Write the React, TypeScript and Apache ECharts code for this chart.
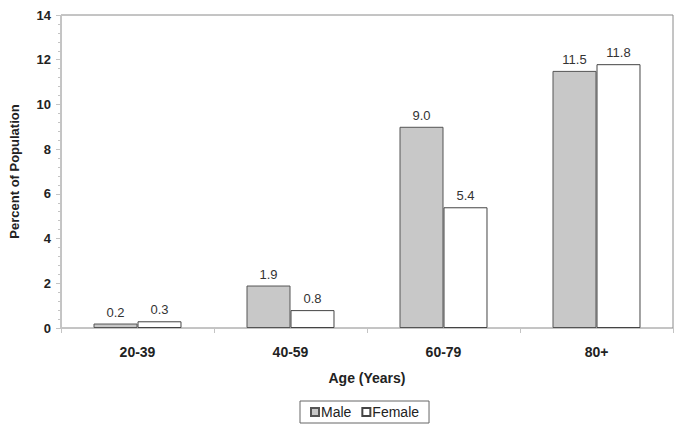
import React, { useEffect, useRef } from "react";
import * as echarts from "echarts";

const categories = ["20-39", "40-59", "60-79", "80+"];
const maleValues = [0.2, 1.9, 9.0, 11.5];
const femaleValues = [0.3, 0.8, 5.4, 11.8];
const yMin = 0;
const yMax = 14;
const yInterval = 2;

const FONT = "Liberation Sans, Arial, sans-serif";

export default function App() {
  const ref = useRef<HTMLDivElement>(null);
  useEffect(() => {
    if (!ref.current) return;
    const chart = echarts.init(ref.current, null, { renderer: "svg" });
    const label = {
      show: true,
      position: "top",
      distance: 5,
      fontFamily: FONT,
      fontSize: 13,
      color: "#333",
      formatter: (p: any) => Number(p.value).toFixed(1),
    };
    chart.setOption({
      animation: false,
      backgroundColor: "#fff",
      textStyle: { fontFamily: FONT },
      grid: {
        left: 61,
        right: 10,
        top: 15,
        bottom: 105,
        show: true,
        borderColor: "#8a8a8a",
        borderWidth: 1,
      },
      legend: {
        bottom: 10,
        left: 300,
        data: ["Male", "Female"],
        icon: "rect",
        itemWidth: 8,
        itemHeight: 8,
        itemGap: 10,
        borderColor: "#666",
        borderWidth: 1,
        borderRadius: 0,
        padding: [4, 10, 4, 10],
        textStyle: { fontFamily: FONT, fontSize: 14, color: "#222", padding: [0, 0, 0, -3] },
      },
      xAxis: {
        type: "category",
        data: categories,
        name: "Age (Years)",
        nameLocation: "middle",
        nameGap: 43,
        nameTextStyle: { fontFamily: FONT, fontSize: 14, fontWeight: "bold", color: "#222" },
        axisLine: { lineStyle: { color: "#c4c4c4", width: 1 } },
        axisTick: { show: true, length: 5, lineStyle: { color: "#c4c4c4" } },
        axisLabel: { margin: 17, fontFamily: FONT, fontSize: 14, fontWeight: "bold", color: "#222" },
      },
      yAxis: {
        type: "value",
        min: yMin,
        max: yMax,
        interval: yInterval,
        name: "Percent of Population",
        nameLocation: "middle",
        nameGap: 40,
        nameTextStyle: { fontFamily: FONT, fontSize: 13, fontWeight: "bold", color: "#222" },
        axisLine: { show: true, lineStyle: { color: "#c4c4c4", width: 1 } },
        axisTick: { show: true, length: 5, lineStyle: { color: "#c4c4c4" } },
        minorTick: { show: true, splitNumber: 5, length: 3, lineStyle: { color: "#c4c4c4" } },
        splitLine: { show: false },
        axisLabel: { margin: 10, fontFamily: FONT, fontSize: 13, fontWeight: "bold", color: "#222" },
      },
      series: [
        {
          name: "Male",
          type: "bar",
          data: maleValues,
          barGap: "0%",
          barCategoryGap: "42.5%",
          itemStyle: { color: "#c8c8c8", borderColor: "#555", borderWidth: 1 },
          label,
        },
        {
          name: "Female",
          type: "bar",
          data: femaleValues,
          barGap: "0%",
          barCategoryGap: "42.5%",
          itemStyle: { color: "#ffffff", borderColor: "#444", borderWidth: 1 },
          label,
        },
      ],
    });
    return () => chart.dispose();
  }, []);
  return <div ref={ref} style={{ width: 683, height: 433, position: "fixed", left: 0, top: 0 }} />;
}
